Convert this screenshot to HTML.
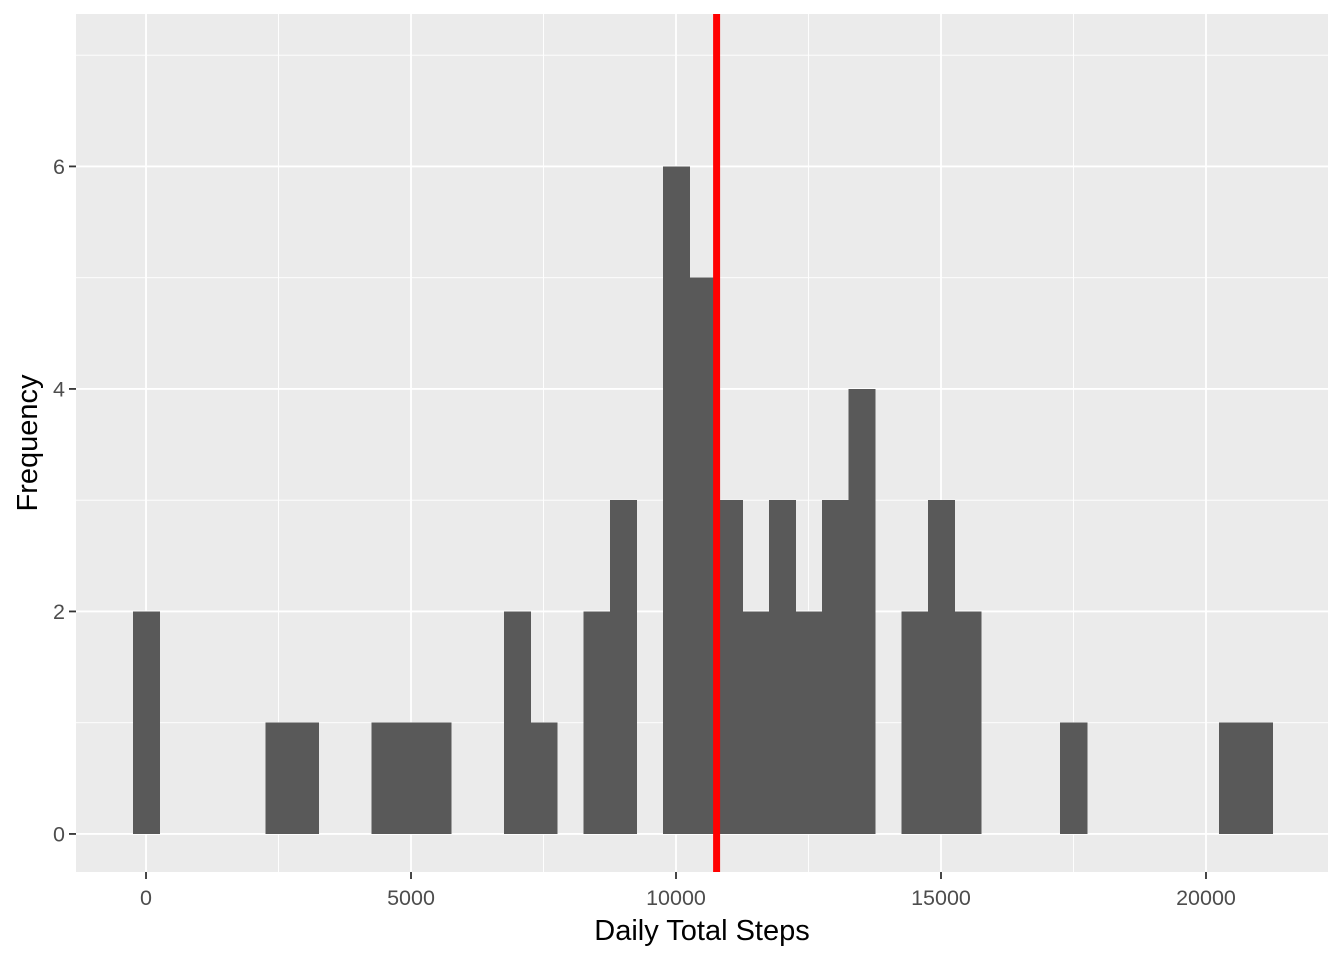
<!DOCTYPE html>
<html><head><meta charset="utf-8"><style>
body{margin:0;background:#fff;}
text{font-family:"Liberation Sans",sans-serif;}
</style></head><body>
<svg id="c" width="1344" height="960" xmlns="http://www.w3.org/2000/svg"></svg>
<script>
const binCenters=[0,2500,3000,4500,5000,5500,7000,7500,8500,9000,10000,10500,11000,11500,12000,12500,13000,13500,14500,15000,15500,17500,20500,21000];
const binCounts=[2,1,1,1,1,1,2,1,2,3,6,5,3,2,3,2,3,4,2,3,2,1,1,1];
const binWidth=500;
const meanSteps=10766;
const xTicks=[0,5000,10000,15000,20000];
const yTicks=[0,2,4,6];
const L=76,R=1328,T=14,B=872;
const xMin=-1321,xMax=22302,yMin=-0.342,yMax=7.37;
const X=v=>L+(v-xMin)/(xMax-xMin)*(R-L);
const Y=v=>B-(v-yMin)/(yMax-yMin)*(B-T);
const svg=document.getElementById('c');const NS='http://www.w3.org/2000/svg';
function el(t,a,p){const e=document.createElementNS(NS,t);for(const k in a)e.setAttribute(k,a[k]);(p||svg).appendChild(e);return e;}
const bg=el('rect',{x:L,y:T,width:R-L,height:B-T,fill:'#ebebeb'});


for(let v=1;v<=7;v+=2){const g=el('line',{x1:L,x2:R,y1:Y(v),y2:Y(v),stroke:'#fff','stroke-width':0.9});}
for(let v=-2500;v<=22500;v+=5000){if(X(v)>L&&X(v)<R){const g=el('line',{x1:X(v),x2:X(v),y1:T,y2:B,stroke:'#fff','stroke-width':0.9});}}
yTicks.forEach(v=>{const g=el('line',{x1:L,x2:R,y1:Y(v),y2:Y(v),stroke:'#fff','stroke-width':1.8});
const t=el('line',{x1:L-7,x2:L,y1:Y(v),y2:Y(v),stroke:'#333','stroke-width':1.8});
const l=el('text',{x:L-11,y:Y(v)+7.5,'text-anchor':'end','font-size':21.5,fill:'#4d4d4d'});l.textContent=v;});
xTicks.forEach(v=>{const g=el('line',{x1:X(v),x2:X(v),y1:T,y2:B,stroke:'#fff','stroke-width':1.8});
const t=el('line',{x1:X(v),x2:X(v),y1:B,y2:B+7,stroke:'#333','stroke-width':1.8});
const l=el('text',{x:X(v),y:B+33,'text-anchor':'middle','font-size':21.5,fill:'#4d4d4d'});l.textContent=v;});
binCenters.forEach((c,i)=>{const r=el('rect',{x:X(c-binWidth/2),y:Y(binCounts[i]),width:X(c+binWidth/2)-X(c-binWidth/2)+0.6,height:Y(0)-Y(binCounts[i]),fill:'#595959','shape-rendering':'crispEdges'});});
const m=el('line',{x1:X(meanSteps),x2:X(meanSteps),y1:T,y2:B,stroke:'#ff0000','stroke-width':7});


const xt=el('text',{x:(L+R)/2,y:940,'text-anchor':'middle','font-size':29,fill:'#000'});xt.textContent='Daily Total Steps';


const yt=el('text',{x:0,y:0,'text-anchor':'middle','font-size':29,fill:'#000',transform:`translate(37,${(T+B)/2}) rotate(-90)`});yt.textContent='Frequency';


</script>
</body></html>
